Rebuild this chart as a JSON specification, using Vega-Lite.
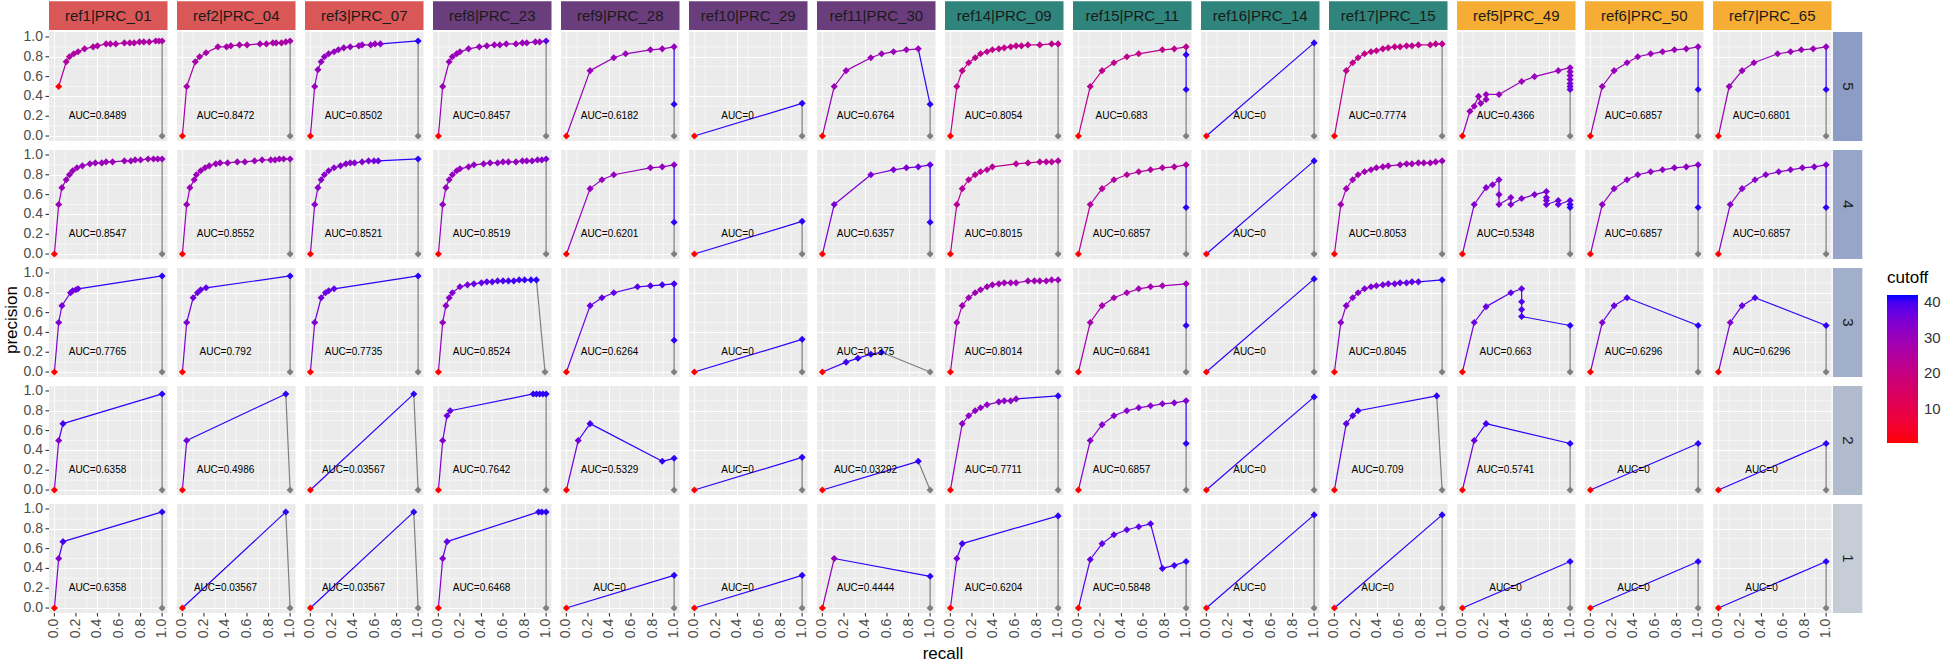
{
"$schema":"https://vega.github.io/schema/vega-lite/v6.json",
"padding":{"left":2,"top":1,"right":0,"bottom":0},
"bounds":"flush",
"data":{"values":[
{"r":"ref1|PRC_01","w":5,"x":0.04,"y":0.5,"c":0.5},{"r":"ref1|PRC_01","w":5,"x":0.11,"y":0.75,"c":26},{"r":"ref1|PRC_01","w":5,"x":0.14,"y":0.8,"c":26},{"r":"ref1|PRC_01","w":5,"x":0.18,"y":0.83,"c":26},{"r":"ref1|PRC_01","w":5,"x":0.22,"y":0.85,"c":26},{"r":"ref1|PRC_01","w":5,"x":0.28,"y":0.88,"c":26},{"r":"ref1|PRC_01","w":5,"x":0.36,"y":0.9,"c":26},{"r":"ref1|PRC_01","w":5,"x":0.4,"y":0.91,"c":26},{"r":"ref1|PRC_01","w":5,"x":0.48,"y":0.93,"c":26},{"r":"ref1|PRC_01","w":5,"x":0.52,"y":0.93,"c":26},{"r":"ref1|PRC_01","w":5,"x":0.57,"y":0.93,"c":26},{"r":"ref1|PRC_01","w":5,"x":0.65,"y":0.94,"c":26},{"r":"ref1|PRC_01","w":5,"x":0.7,"y":0.94,"c":26},{"r":"ref1|PRC_01","w":5,"x":0.74,"y":0.94,"c":26},{"r":"ref1|PRC_01","w":5,"x":0.79,"y":0.95,"c":26},{"r":"ref1|PRC_01","w":5,"x":0.83,"y":0.95,"c":26},{"r":"ref1|PRC_01","w":5,"x":0.88,"y":0.95,"c":26},{"r":"ref1|PRC_01","w":5,"x":0.94,"y":0.96,"c":26},{"r":"ref1|PRC_01","w":5,"x":0.97,"y":0.96,"c":26},{"r":"ref1|PRC_01","w":5,"x":1,"y":0.96,"c":27},{"r":"ref1|PRC_01","w":5,"x":1,"y":0,"c":null},
{"r":"ref1|PRC_01","w":4,"x":0,"y":0,"c":0.5},{"r":"ref1|PRC_01","w":4,"x":0.04,"y":0.5,"c":30},{"r":"ref1|PRC_01","w":4,"x":0.07,"y":0.67,"c":30},{"r":"ref1|PRC_01","w":4,"x":0.11,"y":0.75,"c":30},{"r":"ref1|PRC_01","w":4,"x":0.14,"y":0.8,"c":30},{"r":"ref1|PRC_01","w":4,"x":0.17,"y":0.84,"c":30},{"r":"ref1|PRC_01","w":4,"x":0.21,"y":0.87,"c":30},{"r":"ref1|PRC_01","w":4,"x":0.26,"y":0.89,"c":30},{"r":"ref1|PRC_01","w":4,"x":0.33,"y":0.91,"c":30},{"r":"ref1|PRC_01","w":4,"x":0.38,"y":0.92,"c":30},{"r":"ref1|PRC_01","w":4,"x":0.44,"y":0.92,"c":30},{"r":"ref1|PRC_01","w":4,"x":0.48,"y":0.93,"c":30},{"r":"ref1|PRC_01","w":4,"x":0.54,"y":0.93,"c":30},{"r":"ref1|PRC_01","w":4,"x":0.65,"y":0.94,"c":30},{"r":"ref1|PRC_01","w":4,"x":0.71,"y":0.94,"c":30},{"r":"ref1|PRC_01","w":4,"x":0.75,"y":0.95,"c":30},{"r":"ref1|PRC_01","w":4,"x":0.8,"y":0.95,"c":30},{"r":"ref1|PRC_01","w":4,"x":0.87,"y":0.96,"c":30},{"r":"ref1|PRC_01","w":4,"x":0.92,"y":0.96,"c":30},{"r":"ref1|PRC_01","w":4,"x":0.96,"y":0.96,"c":30},{"r":"ref1|PRC_01","w":4,"x":1,"y":0.96,"c":31},{"r":"ref1|PRC_01","w":4,"x":1,"y":0,"c":null},
{"r":"ref1|PRC_01","w":3,"x":0,"y":0,"c":0.5},{"r":"ref1|PRC_01","w":3,"x":0.04,"y":0.5,"c":34},{"r":"ref1|PRC_01","w":3,"x":0.07,"y":0.67,"c":35},{"r":"ref1|PRC_01","w":3,"x":0.15,"y":0.8,"c":36},{"r":"ref1|PRC_01","w":3,"x":0.17,"y":0.82,"c":36},{"r":"ref1|PRC_01","w":3,"x":0.2,"y":0.83,"c":37},{"r":"ref1|PRC_01","w":3,"x":0.22,"y":0.84,"c":37},{"r":"ref1|PRC_01","w":3,"x":1,"y":0.97,"c":41},{"r":"ref1|PRC_01","w":3,"x":1,"y":0,"c":null},
{"r":"ref1|PRC_01","w":2,"x":0,"y":0,"c":0.5},{"r":"ref1|PRC_01","w":2,"x":0.04,"y":0.5,"c":34},{"r":"ref1|PRC_01","w":2,"x":0.08,"y":0.67,"c":40},{"r":"ref1|PRC_01","w":2,"x":1,"y":0.97,"c":41},{"r":"ref1|PRC_01","w":2,"x":1,"y":0,"c":null},
{"r":"ref1|PRC_01","w":1,"x":0,"y":0,"c":0.5},{"r":"ref1|PRC_01","w":1,"x":0.04,"y":0.5,"c":34},{"r":"ref1|PRC_01","w":1,"x":0.08,"y":0.67,"c":40},{"r":"ref1|PRC_01","w":1,"x":1,"y":0.97,"c":41},{"r":"ref1|PRC_01","w":1,"x":1,"y":0,"c":null},
{"r":"ref2|PRC_04","w":5,"x":0,"y":0,"c":0.5},{"r":"ref2|PRC_04","w":5,"x":0.04,"y":0.5,"c":27},{"r":"ref2|PRC_04","w":5,"x":0.12,"y":0.75,"c":27},{"r":"ref2|PRC_04","w":5,"x":0.16,"y":0.8,"c":27},{"r":"ref2|PRC_04","w":5,"x":0.22,"y":0.84,"c":27},{"r":"ref2|PRC_04","w":5,"x":0.33,"y":0.9,"c":27},{"r":"ref2|PRC_04","w":5,"x":0.41,"y":0.9,"c":27},{"r":"ref2|PRC_04","w":5,"x":0.45,"y":0.91,"c":27},{"r":"ref2|PRC_04","w":5,"x":0.53,"y":0.92,"c":27},{"r":"ref2|PRC_04","w":5,"x":0.6,"y":0.92,"c":27},{"r":"ref2|PRC_04","w":5,"x":0.72,"y":0.93,"c":27},{"r":"ref2|PRC_04","w":5,"x":0.78,"y":0.93,"c":27},{"r":"ref2|PRC_04","w":5,"x":0.84,"y":0.94,"c":27},{"r":"ref2|PRC_04","w":5,"x":0.87,"y":0.94,"c":27},{"r":"ref2|PRC_04","w":5,"x":0.92,"y":0.94,"c":27},{"r":"ref2|PRC_04","w":5,"x":0.96,"y":0.95,"c":27},{"r":"ref2|PRC_04","w":5,"x":1,"y":0.96,"c":28},{"r":"ref2|PRC_04","w":5,"x":1,"y":0,"c":null},
{"r":"ref2|PRC_04","w":4,"x":0,"y":0,"c":0.5},{"r":"ref2|PRC_04","w":4,"x":0.04,"y":0.5,"c":30},{"r":"ref2|PRC_04","w":4,"x":0.07,"y":0.67,"c":30},{"r":"ref2|PRC_04","w":4,"x":0.11,"y":0.75,"c":30},{"r":"ref2|PRC_04","w":4,"x":0.13,"y":0.8,"c":30},{"r":"ref2|PRC_04","w":4,"x":0.17,"y":0.84,"c":30},{"r":"ref2|PRC_04","w":4,"x":0.21,"y":0.87,"c":30},{"r":"ref2|PRC_04","w":4,"x":0.25,"y":0.89,"c":30},{"r":"ref2|PRC_04","w":4,"x":0.31,"y":0.91,"c":30},{"r":"ref2|PRC_04","w":4,"x":0.35,"y":0.92,"c":30},{"r":"ref2|PRC_04","w":4,"x":0.42,"y":0.92,"c":30},{"r":"ref2|PRC_04","w":4,"x":0.51,"y":0.93,"c":30},{"r":"ref2|PRC_04","w":4,"x":0.58,"y":0.93,"c":30},{"r":"ref2|PRC_04","w":4,"x":0.67,"y":0.94,"c":30},{"r":"ref2|PRC_04","w":4,"x":0.74,"y":0.95,"c":30},{"r":"ref2|PRC_04","w":4,"x":0.82,"y":0.95,"c":30},{"r":"ref2|PRC_04","w":4,"x":0.86,"y":0.95,"c":30},{"r":"ref2|PRC_04","w":4,"x":0.9,"y":0.96,"c":30},{"r":"ref2|PRC_04","w":4,"x":0.94,"y":0.96,"c":30},{"r":"ref2|PRC_04","w":4,"x":1,"y":0.96,"c":31},{"r":"ref2|PRC_04","w":4,"x":1,"y":0,"c":null},
{"r":"ref2|PRC_04","w":3,"x":0,"y":0,"c":0.5},{"r":"ref2|PRC_04","w":3,"x":0.04,"y":0.5,"c":34},{"r":"ref2|PRC_04","w":3,"x":0.1,"y":0.75,"c":36},{"r":"ref2|PRC_04","w":3,"x":0.14,"y":0.8,"c":37},{"r":"ref2|PRC_04","w":3,"x":0.17,"y":0.83,"c":37},{"r":"ref2|PRC_04","w":3,"x":0.22,"y":0.85,"c":38},{"r":"ref2|PRC_04","w":3,"x":1,"y":0.97,"c":41},{"r":"ref2|PRC_04","w":3,"x":1,"y":0,"c":null},
{"r":"ref2|PRC_04","w":2,"x":0,"y":0,"c":0.5},{"r":"ref2|PRC_04","w":2,"x":0.04,"y":0.5,"c":36},{"r":"ref2|PRC_04","w":2,"x":0.96,"y":0.97,"c":41},{"r":"ref2|PRC_04","w":2,"x":1,"y":0,"c":null},
{"r":"ref2|PRC_04","w":1,"x":0,"y":0,"c":0.5},{"r":"ref2|PRC_04","w":1,"x":0.96,"y":0.97,"c":41},{"r":"ref2|PRC_04","w":1,"x":1,"y":0,"c":null},
{"r":"ref3|PRC_07","w":5,"x":0,"y":0,"c":0.5},{"r":"ref3|PRC_07","w":5,"x":0.04,"y":0.5,"c":31},{"r":"ref3|PRC_07","w":5,"x":0.07,"y":0.67,"c":31},{"r":"ref3|PRC_07","w":5,"x":0.1,"y":0.75,"c":31},{"r":"ref3|PRC_07","w":5,"x":0.13,"y":0.8,"c":31},{"r":"ref3|PRC_07","w":5,"x":0.17,"y":0.83,"c":31},{"r":"ref3|PRC_07","w":5,"x":0.22,"y":0.85,"c":31},{"r":"ref3|PRC_07","w":5,"x":0.26,"y":0.87,"c":31},{"r":"ref3|PRC_07","w":5,"x":0.31,"y":0.89,"c":31},{"r":"ref3|PRC_07","w":5,"x":0.37,"y":0.9,"c":31},{"r":"ref3|PRC_07","w":5,"x":0.45,"y":0.91,"c":31},{"r":"ref3|PRC_07","w":5,"x":0.48,"y":0.92,"c":31},{"r":"ref3|PRC_07","w":5,"x":0.56,"y":0.92,"c":31},{"r":"ref3|PRC_07","w":5,"x":0.6,"y":0.93,"c":31},{"r":"ref3|PRC_07","w":5,"x":0.65,"y":0.93,"c":33},{"r":"ref3|PRC_07","w":5,"x":1,"y":0.96,"c":41},{"r":"ref3|PRC_07","w":5,"x":1,"y":0,"c":null},
{"r":"ref3|PRC_07","w":4,"x":0,"y":0,"c":0.5},{"r":"ref3|PRC_07","w":4,"x":0.04,"y":0.5,"c":33},{"r":"ref3|PRC_07","w":4,"x":0.07,"y":0.67,"c":33},{"r":"ref3|PRC_07","w":4,"x":0.1,"y":0.75,"c":33},{"r":"ref3|PRC_07","w":4,"x":0.13,"y":0.8,"c":33},{"r":"ref3|PRC_07","w":4,"x":0.17,"y":0.84,"c":33},{"r":"ref3|PRC_07","w":4,"x":0.22,"y":0.87,"c":33},{"r":"ref3|PRC_07","w":4,"x":0.28,"y":0.89,"c":33},{"r":"ref3|PRC_07","w":4,"x":0.33,"y":0.91,"c":33},{"r":"ref3|PRC_07","w":4,"x":0.37,"y":0.92,"c":33},{"r":"ref3|PRC_07","w":4,"x":0.41,"y":0.92,"c":34},{"r":"ref3|PRC_07","w":4,"x":0.48,"y":0.93,"c":34},{"r":"ref3|PRC_07","w":4,"x":0.54,"y":0.94,"c":35},{"r":"ref3|PRC_07","w":4,"x":0.59,"y":0.94,"c":36},{"r":"ref3|PRC_07","w":4,"x":0.63,"y":0.94,"c":37},{"r":"ref3|PRC_07","w":4,"x":1,"y":0.96,"c":41},{"r":"ref3|PRC_07","w":4,"x":1,"y":0,"c":null},
{"r":"ref3|PRC_07","w":3,"x":0,"y":0,"c":0.5},{"r":"ref3|PRC_07","w":3,"x":0.04,"y":0.5,"c":34},{"r":"ref3|PRC_07","w":3,"x":0.1,"y":0.75,"c":36},{"r":"ref3|PRC_07","w":3,"x":0.14,"y":0.8,"c":37},{"r":"ref3|PRC_07","w":3,"x":0.17,"y":0.82,"c":37},{"r":"ref3|PRC_07","w":3,"x":0.22,"y":0.84,"c":38},{"r":"ref3|PRC_07","w":3,"x":1,"y":0.97,"c":41},{"r":"ref3|PRC_07","w":3,"x":1,"y":0,"c":null},
{"r":"ref3|PRC_07","w":2,"x":0,"y":0,"c":0.5},{"r":"ref3|PRC_07","w":2,"x":0.96,"y":0.97,"c":41},{"r":"ref3|PRC_07","w":2,"x":1,"y":0,"c":null},
{"r":"ref3|PRC_07","w":1,"x":0,"y":0,"c":0.5},{"r":"ref3|PRC_07","w":1,"x":0.96,"y":0.97,"c":41},{"r":"ref3|PRC_07","w":1,"x":1,"y":0,"c":null},
{"r":"ref8|PRC_23","w":5,"x":0,"y":0,"c":0.5},{"r":"ref8|PRC_23","w":5,"x":0.04,"y":0.5,"c":30},{"r":"ref8|PRC_23","w":5,"x":0.1,"y":0.75,"c":30},{"r":"ref8|PRC_23","w":5,"x":0.13,"y":0.8,"c":30},{"r":"ref8|PRC_23","w":5,"x":0.17,"y":0.83,"c":30},{"r":"ref8|PRC_23","w":5,"x":0.2,"y":0.85,"c":30},{"r":"ref8|PRC_23","w":5,"x":0.28,"y":0.88,"c":30},{"r":"ref8|PRC_23","w":5,"x":0.38,"y":0.9,"c":30},{"r":"ref8|PRC_23","w":5,"x":0.45,"y":0.91,"c":30},{"r":"ref8|PRC_23","w":5,"x":0.52,"y":0.92,"c":30},{"r":"ref8|PRC_23","w":5,"x":0.57,"y":0.92,"c":30},{"r":"ref8|PRC_23","w":5,"x":0.63,"y":0.93,"c":30},{"r":"ref8|PRC_23","w":5,"x":0.72,"y":0.93,"c":30},{"r":"ref8|PRC_23","w":5,"x":0.78,"y":0.94,"c":30},{"r":"ref8|PRC_23","w":5,"x":0.82,"y":0.94,"c":30},{"r":"ref8|PRC_23","w":5,"x":0.9,"y":0.95,"c":30},{"r":"ref8|PRC_23","w":5,"x":0.94,"y":0.95,"c":30},{"r":"ref8|PRC_23","w":5,"x":1,"y":0.96,"c":38},{"r":"ref8|PRC_23","w":5,"x":1,"y":0,"c":null},
{"r":"ref8|PRC_23","w":4,"x":0,"y":0,"c":0.5},{"r":"ref8|PRC_23","w":4,"x":0.04,"y":0.5,"c":31},{"r":"ref8|PRC_23","w":4,"x":0.07,"y":0.67,"c":31},{"r":"ref8|PRC_23","w":4,"x":0.1,"y":0.75,"c":31},{"r":"ref8|PRC_23","w":4,"x":0.13,"y":0.8,"c":31},{"r":"ref8|PRC_23","w":4,"x":0.17,"y":0.84,"c":31},{"r":"ref8|PRC_23","w":4,"x":0.2,"y":0.86,"c":31},{"r":"ref8|PRC_23","w":4,"x":0.28,"y":0.88,"c":31},{"r":"ref8|PRC_23","w":4,"x":0.33,"y":0.9,"c":31},{"r":"ref8|PRC_23","w":4,"x":0.42,"y":0.91,"c":31},{"r":"ref8|PRC_23","w":4,"x":0.48,"y":0.92,"c":31},{"r":"ref8|PRC_23","w":4,"x":0.55,"y":0.92,"c":31},{"r":"ref8|PRC_23","w":4,"x":0.6,"y":0.93,"c":31},{"r":"ref8|PRC_23","w":4,"x":0.65,"y":0.93,"c":31},{"r":"ref8|PRC_23","w":4,"x":0.72,"y":0.93,"c":31},{"r":"ref8|PRC_23","w":4,"x":0.78,"y":0.94,"c":31},{"r":"ref8|PRC_23","w":4,"x":0.82,"y":0.94,"c":32},{"r":"ref8|PRC_23","w":4,"x":0.87,"y":0.94,"c":32},{"r":"ref8|PRC_23","w":4,"x":0.92,"y":0.95,"c":32},{"r":"ref8|PRC_23","w":4,"x":0.96,"y":0.95,"c":33},{"r":"ref8|PRC_23","w":4,"x":1,"y":0.96,"c":35},{"r":"ref8|PRC_23","w":4,"x":1,"y":0,"c":null},
{"r":"ref8|PRC_23","w":3,"x":0,"y":0,"c":0.5},{"r":"ref8|PRC_23","w":3,"x":0.04,"y":0.5,"c":31},{"r":"ref8|PRC_23","w":3,"x":0.07,"y":0.67,"c":32},{"r":"ref8|PRC_23","w":3,"x":0.1,"y":0.75,"c":33},{"r":"ref8|PRC_23","w":3,"x":0.13,"y":0.8,"c":34},{"r":"ref8|PRC_23","w":3,"x":0.2,"y":0.86,"c":35},{"r":"ref8|PRC_23","w":3,"x":0.27,"y":0.88,"c":36},{"r":"ref8|PRC_23","w":3,"x":0.33,"y":0.89,"c":37},{"r":"ref8|PRC_23","w":3,"x":0.4,"y":0.9,"c":38},{"r":"ref8|PRC_23","w":3,"x":0.45,"y":0.91,"c":38},{"r":"ref8|PRC_23","w":3,"x":0.5,"y":0.91,"c":39},{"r":"ref8|PRC_23","w":3,"x":0.55,"y":0.92,"c":39},{"r":"ref8|PRC_23","w":3,"x":0.6,"y":0.92,"c":40},{"r":"ref8|PRC_23","w":3,"x":0.65,"y":0.92,"c":40},{"r":"ref8|PRC_23","w":3,"x":0.7,"y":0.92,"c":40},{"r":"ref8|PRC_23","w":3,"x":0.75,"y":0.93,"c":40},{"r":"ref8|PRC_23","w":3,"x":0.8,"y":0.93,"c":41},{"r":"ref8|PRC_23","w":3,"x":0.86,"y":0.93,"c":41},{"r":"ref8|PRC_23","w":3,"x":0.91,"y":0.93,"c":41},{"r":"ref8|PRC_23","w":3,"x":0.99,"y":0,"c":null},
{"r":"ref8|PRC_23","w":2,"x":0,"y":0,"c":0.5},{"r":"ref8|PRC_23","w":2,"x":0.04,"y":0.5,"c":34},{"r":"ref8|PRC_23","w":2,"x":0.08,"y":0.75,"c":37},{"r":"ref8|PRC_23","w":2,"x":0.11,"y":0.8,"c":38},{"r":"ref8|PRC_23","w":2,"x":0.88,"y":0.97,"c":41},{"r":"ref8|PRC_23","w":2,"x":0.91,"y":0.97,"c":41},{"r":"ref8|PRC_23","w":2,"x":0.94,"y":0.97,"c":41},{"r":"ref8|PRC_23","w":2,"x":0.97,"y":0.97,"c":41},{"r":"ref8|PRC_23","w":2,"x":1,"y":0.97,"c":41},{"r":"ref8|PRC_23","w":2,"x":1,"y":0,"c":null},
{"r":"ref8|PRC_23","w":1,"x":0,"y":0,"c":0.5},{"r":"ref8|PRC_23","w":1,"x":0.04,"y":0.5,"c":34},{"r":"ref8|PRC_23","w":1,"x":0.08,"y":0.67,"c":38},{"r":"ref8|PRC_23","w":1,"x":0.93,"y":0.97,"c":41},{"r":"ref8|PRC_23","w":1,"x":0.96,"y":0.97,"c":41},{"r":"ref8|PRC_23","w":1,"x":1,"y":0.97,"c":41},{"r":"ref8|PRC_23","w":1,"x":1,"y":0,"c":null},
{"r":"ref9|PRC_28","w":5,"x":0,"y":0,"c":0.5},{"r":"ref9|PRC_28","w":5,"x":0.22,"y":0.66,"c":30},{"r":"ref9|PRC_28","w":5,"x":0.44,"y":0.79,"c":30},{"r":"ref9|PRC_28","w":5,"x":0.55,"y":0.83,"c":30},{"r":"ref9|PRC_28","w":5,"x":0.78,"y":0.87,"c":30},{"r":"ref9|PRC_28","w":5,"x":0.89,"y":0.88,"c":30},{"r":"ref9|PRC_28","w":5,"x":1,"y":0.9,"c":31},{"r":"ref9|PRC_28","w":5,"x":1,"y":0.32,"c":41},{"r":"ref9|PRC_28","w":5,"x":1,"y":0,"c":null},
{"r":"ref9|PRC_28","w":4,"x":0,"y":0,"c":0.5},{"r":"ref9|PRC_28","w":4,"x":0.22,"y":0.66,"c":31},{"r":"ref9|PRC_28","w":4,"x":0.33,"y":0.75,"c":31},{"r":"ref9|PRC_28","w":4,"x":0.44,"y":0.8,"c":31},{"r":"ref9|PRC_28","w":4,"x":0.78,"y":0.87,"c":31},{"r":"ref9|PRC_28","w":4,"x":0.89,"y":0.88,"c":31},{"r":"ref9|PRC_28","w":4,"x":1,"y":0.9,"c":32},{"r":"ref9|PRC_28","w":4,"x":1,"y":0.32,"c":41},{"r":"ref9|PRC_28","w":4,"x":1,"y":0,"c":null},
{"r":"ref9|PRC_28","w":3,"x":0,"y":0,"c":0.5},{"r":"ref9|PRC_28","w":3,"x":0.22,"y":0.67,"c":37},{"r":"ref9|PRC_28","w":3,"x":0.33,"y":0.75,"c":38},{"r":"ref9|PRC_28","w":3,"x":0.44,"y":0.8,"c":38},{"r":"ref9|PRC_28","w":3,"x":0.66,"y":0.86,"c":39},{"r":"ref9|PRC_28","w":3,"x":0.78,"y":0.87,"c":39},{"r":"ref9|PRC_28","w":3,"x":0.89,"y":0.88,"c":40},{"r":"ref9|PRC_28","w":3,"x":1,"y":0.89,"c":40},{"r":"ref9|PRC_28","w":3,"x":1,"y":0.32,"c":41},{"r":"ref9|PRC_28","w":3,"x":1,"y":0,"c":null},
{"r":"ref9|PRC_28","w":2,"x":0,"y":0,"c":0.5},{"r":"ref9|PRC_28","w":2,"x":0.11,"y":0.5,"c":36},{"r":"ref9|PRC_28","w":2,"x":0.22,"y":0.67,"c":40},{"r":"ref9|PRC_28","w":2,"x":0.89,"y":0.29,"c":41},{"r":"ref9|PRC_28","w":2,"x":1,"y":0.32,"c":41},{"r":"ref9|PRC_28","w":2,"x":1,"y":0,"c":null},
{"r":"ref9|PRC_28","w":1,"x":0,"y":0,"c":0.5},{"r":"ref9|PRC_28","w":1,"x":1,"y":0.33,"c":41},{"r":"ref9|PRC_28","w":1,"x":1,"y":0,"c":null},
{"r":"ref10|PRC_29","w":5,"x":0,"y":0,"c":0.5},{"r":"ref10|PRC_29","w":5,"x":1,"y":0.33,"c":41},{"r":"ref10|PRC_29","w":5,"x":1,"y":0,"c":null},
{"r":"ref10|PRC_29","w":4,"x":0,"y":0,"c":0.5},{"r":"ref10|PRC_29","w":4,"x":1,"y":0.33,"c":41},{"r":"ref10|PRC_29","w":4,"x":1,"y":0,"c":null},
{"r":"ref10|PRC_29","w":3,"x":0,"y":0,"c":0.5},{"r":"ref10|PRC_29","w":3,"x":1,"y":0.33,"c":41},{"r":"ref10|PRC_29","w":3,"x":1,"y":0,"c":null},
{"r":"ref10|PRC_29","w":2,"x":0,"y":0,"c":0.5},{"r":"ref10|PRC_29","w":2,"x":1,"y":0.33,"c":41},{"r":"ref10|PRC_29","w":2,"x":1,"y":0,"c":null},
{"r":"ref10|PRC_29","w":1,"x":0,"y":0,"c":0.5},{"r":"ref10|PRC_29","w":1,"x":1,"y":0.33,"c":41},{"r":"ref10|PRC_29","w":1,"x":1,"y":0,"c":null},
{"r":"ref11|PRC_30","w":5,"x":0,"y":0,"c":0.5},{"r":"ref11|PRC_30","w":5,"x":0.11,"y":0.5,"c":30},{"r":"ref11|PRC_30","w":5,"x":0.22,"y":0.66,"c":30},{"r":"ref11|PRC_30","w":5,"x":0.45,"y":0.79,"c":30},{"r":"ref11|PRC_30","w":5,"x":0.55,"y":0.83,"c":30},{"r":"ref11|PRC_30","w":5,"x":0.66,"y":0.85,"c":30},{"r":"ref11|PRC_30","w":5,"x":0.78,"y":0.87,"c":30},{"r":"ref11|PRC_30","w":5,"x":0.89,"y":0.88,"c":30},{"r":"ref11|PRC_30","w":5,"x":1,"y":0.32,"c":41},{"r":"ref11|PRC_30","w":5,"x":1,"y":0,"c":null},
{"r":"ref11|PRC_30","w":4,"x":0,"y":0,"c":0.5},{"r":"ref11|PRC_30","w":4,"x":0.11,"y":0.5,"c":35},{"r":"ref11|PRC_30","w":4,"x":0.45,"y":0.8,"c":35},{"r":"ref11|PRC_30","w":4,"x":0.66,"y":0.85,"c":35},{"r":"ref11|PRC_30","w":4,"x":0.78,"y":0.87,"c":35},{"r":"ref11|PRC_30","w":4,"x":0.89,"y":0.88,"c":36},{"r":"ref11|PRC_30","w":4,"x":1,"y":0.9,"c":37},{"r":"ref11|PRC_30","w":4,"x":1,"y":0.32,"c":41},{"r":"ref11|PRC_30","w":4,"x":1,"y":0,"c":null},
{"r":"ref11|PRC_30","w":3,"x":0,"y":0,"c":0.5},{"r":"ref11|PRC_30","w":3,"x":0.22,"y":0.1,"c":40},{"r":"ref11|PRC_30","w":3,"x":0.33,"y":0.14,"c":41},{"r":"ref11|PRC_30","w":3,"x":0.45,"y":0.18,"c":41},{"r":"ref11|PRC_30","w":3,"x":0.55,"y":0.2,"c":41},{"r":"ref11|PRC_30","w":3,"x":1,"y":0,"c":null},
{"r":"ref11|PRC_30","w":2,"x":0,"y":0,"c":0.5},{"r":"ref11|PRC_30","w":2,"x":0.89,"y":0.29,"c":41},{"r":"ref11|PRC_30","w":2,"x":1,"y":0,"c":null},
{"r":"ref11|PRC_30","w":1,"x":0,"y":0,"c":0.5},{"r":"ref11|PRC_30","w":1,"x":0.11,"y":0.5,"c":30},{"r":"ref11|PRC_30","w":1,"x":1,"y":0.32,"c":41},{"r":"ref11|PRC_30","w":1,"x":1,"y":0,"c":null},
{"r":"ref14|PRC_09","w":5,"x":0,"y":0,"c":0.5},{"r":"ref14|PRC_09","w":5,"x":0.06,"y":0.5,"c":22},{"r":"ref14|PRC_09","w":5,"x":0.11,"y":0.66,"c":22},{"r":"ref14|PRC_09","w":5,"x":0.17,"y":0.74,"c":22},{"r":"ref14|PRC_09","w":5,"x":0.23,"y":0.79,"c":22},{"r":"ref14|PRC_09","w":5,"x":0.28,"y":0.83,"c":22},{"r":"ref14|PRC_09","w":5,"x":0.34,"y":0.85,"c":22},{"r":"ref14|PRC_09","w":5,"x":0.39,"y":0.87,"c":22},{"r":"ref14|PRC_09","w":5,"x":0.45,"y":0.88,"c":22},{"r":"ref14|PRC_09","w":5,"x":0.5,"y":0.89,"c":22},{"r":"ref14|PRC_09","w":5,"x":0.56,"y":0.9,"c":22},{"r":"ref14|PRC_09","w":5,"x":0.61,"y":0.91,"c":22},{"r":"ref14|PRC_09","w":5,"x":0.66,"y":0.91,"c":22},{"r":"ref14|PRC_09","w":5,"x":0.72,"y":0.92,"c":22},{"r":"ref14|PRC_09","w":5,"x":0.83,"y":0.92,"c":22},{"r":"ref14|PRC_09","w":5,"x":0.94,"y":0.93,"c":22},{"r":"ref14|PRC_09","w":5,"x":1,"y":0.93,"c":23},{"r":"ref14|PRC_09","w":5,"x":1,"y":0,"c":null},
{"r":"ref14|PRC_09","w":4,"x":0,"y":0,"c":0.5},{"r":"ref14|PRC_09","w":4,"x":0.06,"y":0.5,"c":24},{"r":"ref14|PRC_09","w":4,"x":0.11,"y":0.66,"c":24},{"r":"ref14|PRC_09","w":4,"x":0.17,"y":0.75,"c":24},{"r":"ref14|PRC_09","w":4,"x":0.23,"y":0.8,"c":24},{"r":"ref14|PRC_09","w":4,"x":0.28,"y":0.83,"c":24},{"r":"ref14|PRC_09","w":4,"x":0.34,"y":0.85,"c":24},{"r":"ref14|PRC_09","w":4,"x":0.39,"y":0.88,"c":24},{"r":"ref14|PRC_09","w":4,"x":0.61,"y":0.91,"c":24},{"r":"ref14|PRC_09","w":4,"x":0.72,"y":0.92,"c":24},{"r":"ref14|PRC_09","w":4,"x":0.83,"y":0.93,"c":24},{"r":"ref14|PRC_09","w":4,"x":0.89,"y":0.93,"c":24},{"r":"ref14|PRC_09","w":4,"x":0.94,"y":0.93,"c":24},{"r":"ref14|PRC_09","w":4,"x":1,"y":0.94,"c":25},{"r":"ref14|PRC_09","w":4,"x":1,"y":0,"c":null},
{"r":"ref14|PRC_09","w":3,"x":0,"y":0,"c":0.5},{"r":"ref14|PRC_09","w":3,"x":0.06,"y":0.5,"c":29},{"r":"ref14|PRC_09","w":3,"x":0.11,"y":0.67,"c":29},{"r":"ref14|PRC_09","w":3,"x":0.17,"y":0.75,"c":29},{"r":"ref14|PRC_09","w":3,"x":0.23,"y":0.8,"c":29},{"r":"ref14|PRC_09","w":3,"x":0.28,"y":0.83,"c":29},{"r":"ref14|PRC_09","w":3,"x":0.34,"y":0.86,"c":29},{"r":"ref14|PRC_09","w":3,"x":0.39,"y":0.88,"c":29},{"r":"ref14|PRC_09","w":3,"x":0.45,"y":0.89,"c":29},{"r":"ref14|PRC_09","w":3,"x":0.5,"y":0.9,"c":29},{"r":"ref14|PRC_09","w":3,"x":0.56,"y":0.9,"c":29},{"r":"ref14|PRC_09","w":3,"x":0.61,"y":0.9,"c":29},{"r":"ref14|PRC_09","w":3,"x":0.72,"y":0.92,"c":29},{"r":"ref14|PRC_09","w":3,"x":0.78,"y":0.92,"c":29},{"r":"ref14|PRC_09","w":3,"x":0.83,"y":0.92,"c":29},{"r":"ref14|PRC_09","w":3,"x":0.89,"y":0.92,"c":29},{"r":"ref14|PRC_09","w":3,"x":0.94,"y":0.93,"c":29},{"r":"ref14|PRC_09","w":3,"x":1,"y":0.93,"c":30},{"r":"ref14|PRC_09","w":3,"x":1,"y":0,"c":null},
{"r":"ref14|PRC_09","w":2,"x":0,"y":0,"c":0.5},{"r":"ref14|PRC_09","w":2,"x":0.11,"y":0.67,"c":32},{"r":"ref14|PRC_09","w":2,"x":0.17,"y":0.75,"c":32},{"r":"ref14|PRC_09","w":2,"x":0.23,"y":0.8,"c":32},{"r":"ref14|PRC_09","w":2,"x":0.28,"y":0.83,"c":32},{"r":"ref14|PRC_09","w":2,"x":0.34,"y":0.86,"c":32},{"r":"ref14|PRC_09","w":2,"x":0.45,"y":0.89,"c":32},{"r":"ref14|PRC_09","w":2,"x":0.5,"y":0.9,"c":32},{"r":"ref14|PRC_09","w":2,"x":0.56,"y":0.9,"c":32},{"r":"ref14|PRC_09","w":2,"x":0.61,"y":0.92,"c":33},{"r":"ref14|PRC_09","w":2,"x":1,"y":0.95,"c":41},{"r":"ref14|PRC_09","w":2,"x":1,"y":0,"c":null},
{"r":"ref14|PRC_09","w":1,"x":0,"y":0,"c":0.5},{"r":"ref14|PRC_09","w":1,"x":0.06,"y":0.5,"c":35},{"r":"ref14|PRC_09","w":1,"x":0.11,"y":0.65,"c":40},{"r":"ref14|PRC_09","w":1,"x":1,"y":0.93,"c":41},{"r":"ref14|PRC_09","w":1,"x":1,"y":0,"c":null},
{"r":"ref15|PRC_11","w":5,"x":0,"y":0,"c":0.5},{"r":"ref15|PRC_11","w":5,"x":0.11,"y":0.5,"c":22},{"r":"ref15|PRC_11","w":5,"x":0.22,"y":0.66,"c":22},{"r":"ref15|PRC_11","w":5,"x":0.33,"y":0.74,"c":22},{"r":"ref15|PRC_11","w":5,"x":0.45,"y":0.8,"c":22},{"r":"ref15|PRC_11","w":5,"x":0.56,"y":0.83,"c":22},{"r":"ref15|PRC_11","w":5,"x":0.78,"y":0.87,"c":22},{"r":"ref15|PRC_11","w":5,"x":0.89,"y":0.88,"c":22},{"r":"ref15|PRC_11","w":5,"x":1,"y":0.9,"c":23},{"r":"ref15|PRC_11","w":5,"x":1,"y":0.82,"c":41},{"r":"ref15|PRC_11","w":5,"x":1,"y":0.47,"c":41},{"r":"ref15|PRC_11","w":5,"x":1,"y":0,"c":null},
{"r":"ref15|PRC_11","w":4,"x":0,"y":0,"c":0.5},{"r":"ref15|PRC_11","w":4,"x":0.11,"y":0.5,"c":25},{"r":"ref15|PRC_11","w":4,"x":0.22,"y":0.66,"c":25},{"r":"ref15|PRC_11","w":4,"x":0.33,"y":0.75,"c":25},{"r":"ref15|PRC_11","w":4,"x":0.45,"y":0.8,"c":25},{"r":"ref15|PRC_11","w":4,"x":0.56,"y":0.83,"c":25},{"r":"ref15|PRC_11","w":4,"x":0.67,"y":0.85,"c":25},{"r":"ref15|PRC_11","w":4,"x":0.78,"y":0.87,"c":25},{"r":"ref15|PRC_11","w":4,"x":0.89,"y":0.88,"c":25},{"r":"ref15|PRC_11","w":4,"x":1,"y":0.9,"c":26},{"r":"ref15|PRC_11","w":4,"x":1,"y":0.47,"c":41},{"r":"ref15|PRC_11","w":4,"x":1,"y":0,"c":null},
{"r":"ref15|PRC_11","w":3,"x":0,"y":0,"c":0.5},{"r":"ref15|PRC_11","w":3,"x":0.11,"y":0.5,"c":28},{"r":"ref15|PRC_11","w":3,"x":0.22,"y":0.67,"c":28},{"r":"ref15|PRC_11","w":3,"x":0.33,"y":0.75,"c":28},{"r":"ref15|PRC_11","w":3,"x":0.45,"y":0.8,"c":28},{"r":"ref15|PRC_11","w":3,"x":0.56,"y":0.84,"c":28},{"r":"ref15|PRC_11","w":3,"x":0.67,"y":0.86,"c":28},{"r":"ref15|PRC_11","w":3,"x":0.78,"y":0.87,"c":28},{"r":"ref15|PRC_11","w":3,"x":1,"y":0.89,"c":29},{"r":"ref15|PRC_11","w":3,"x":1,"y":0.47,"c":41},{"r":"ref15|PRC_11","w":3,"x":1,"y":0,"c":null},
{"r":"ref15|PRC_11","w":2,"x":0,"y":0,"c":0.5},{"r":"ref15|PRC_11","w":2,"x":0.11,"y":0.5,"c":33},{"r":"ref15|PRC_11","w":2,"x":0.22,"y":0.66,"c":33},{"r":"ref15|PRC_11","w":2,"x":0.33,"y":0.75,"c":33},{"r":"ref15|PRC_11","w":2,"x":0.45,"y":0.8,"c":33},{"r":"ref15|PRC_11","w":2,"x":0.56,"y":0.83,"c":33},{"r":"ref15|PRC_11","w":2,"x":0.67,"y":0.85,"c":33},{"r":"ref15|PRC_11","w":2,"x":0.78,"y":0.87,"c":33},{"r":"ref15|PRC_11","w":2,"x":0.89,"y":0.88,"c":33},{"r":"ref15|PRC_11","w":2,"x":1,"y":0.9,"c":34},{"r":"ref15|PRC_11","w":2,"x":1,"y":0.47,"c":41},{"r":"ref15|PRC_11","w":2,"x":1,"y":0,"c":null},
{"r":"ref15|PRC_11","w":1,"x":0,"y":0,"c":0.5},{"r":"ref15|PRC_11","w":1,"x":0.11,"y":0.49,"c":38},{"r":"ref15|PRC_11","w":1,"x":0.22,"y":0.65,"c":38},{"r":"ref15|PRC_11","w":1,"x":0.33,"y":0.74,"c":38},{"r":"ref15|PRC_11","w":1,"x":0.45,"y":0.79,"c":38},{"r":"ref15|PRC_11","w":1,"x":0.56,"y":0.82,"c":38},{"r":"ref15|PRC_11","w":1,"x":0.67,"y":0.85,"c":39},{"r":"ref15|PRC_11","w":1,"x":0.78,"y":0.4,"c":40},{"r":"ref15|PRC_11","w":1,"x":0.89,"y":0.43,"c":40},{"r":"ref15|PRC_11","w":1,"x":1,"y":0.47,"c":41},{"r":"ref15|PRC_11","w":1,"x":1,"y":0,"c":null},
{"r":"ref16|PRC_14","w":5,"x":0,"y":0,"c":0.5},{"r":"ref16|PRC_14","w":5,"x":1,"y":0.94,"c":41},{"r":"ref16|PRC_14","w":5,"x":1,"y":0,"c":null},
{"r":"ref16|PRC_14","w":4,"x":0,"y":0,"c":0.5},{"r":"ref16|PRC_14","w":4,"x":1,"y":0.94,"c":41},{"r":"ref16|PRC_14","w":4,"x":1,"y":0,"c":null},
{"r":"ref16|PRC_14","w":3,"x":0,"y":0,"c":0.5},{"r":"ref16|PRC_14","w":3,"x":1,"y":0.94,"c":41},{"r":"ref16|PRC_14","w":3,"x":1,"y":0,"c":null},
{"r":"ref16|PRC_14","w":2,"x":0,"y":0,"c":0.5},{"r":"ref16|PRC_14","w":2,"x":1,"y":0.94,"c":41},{"r":"ref16|PRC_14","w":2,"x":1,"y":0,"c":null},
{"r":"ref16|PRC_14","w":1,"x":0,"y":0,"c":0.5},{"r":"ref16|PRC_14","w":1,"x":1,"y":0.94,"c":41},{"r":"ref16|PRC_14","w":1,"x":1,"y":0,"c":null},
{"r":"ref17|PRC_15","w":5,"x":0,"y":0,"c":0.5},{"r":"ref17|PRC_15","w":5,"x":0.11,"y":0.66,"c":22},{"r":"ref17|PRC_15","w":5,"x":0.17,"y":0.74,"c":22},{"r":"ref17|PRC_15","w":5,"x":0.22,"y":0.79,"c":22},{"r":"ref17|PRC_15","w":5,"x":0.28,"y":0.83,"c":22},{"r":"ref17|PRC_15","w":5,"x":0.34,"y":0.85,"c":22},{"r":"ref17|PRC_15","w":5,"x":0.39,"y":0.86,"c":22},{"r":"ref17|PRC_15","w":5,"x":0.45,"y":0.88,"c":22},{"r":"ref17|PRC_15","w":5,"x":0.5,"y":0.89,"c":22},{"r":"ref17|PRC_15","w":5,"x":0.56,"y":0.9,"c":22},{"r":"ref17|PRC_15","w":5,"x":0.61,"y":0.9,"c":22},{"r":"ref17|PRC_15","w":5,"x":0.67,"y":0.91,"c":22},{"r":"ref17|PRC_15","w":5,"x":0.72,"y":0.91,"c":22},{"r":"ref17|PRC_15","w":5,"x":0.78,"y":0.92,"c":22},{"r":"ref17|PRC_15","w":5,"x":0.89,"y":0.92,"c":22},{"r":"ref17|PRC_15","w":5,"x":0.94,"y":0.93,"c":22},{"r":"ref17|PRC_15","w":5,"x":1,"y":0.93,"c":23},{"r":"ref17|PRC_15","w":5,"x":1,"y":0,"c":null},
{"r":"ref17|PRC_15","w":4,"x":0,"y":0,"c":0.5},{"r":"ref17|PRC_15","w":4,"x":0.06,"y":0.5,"c":29},{"r":"ref17|PRC_15","w":4,"x":0.11,"y":0.66,"c":29},{"r":"ref17|PRC_15","w":4,"x":0.17,"y":0.75,"c":29},{"r":"ref17|PRC_15","w":4,"x":0.22,"y":0.8,"c":29},{"r":"ref17|PRC_15","w":4,"x":0.28,"y":0.83,"c":29},{"r":"ref17|PRC_15","w":4,"x":0.34,"y":0.85,"c":29},{"r":"ref17|PRC_15","w":4,"x":0.39,"y":0.87,"c":29},{"r":"ref17|PRC_15","w":4,"x":0.45,"y":0.88,"c":29},{"r":"ref17|PRC_15","w":4,"x":0.5,"y":0.89,"c":29},{"r":"ref17|PRC_15","w":4,"x":0.61,"y":0.9,"c":29},{"r":"ref17|PRC_15","w":4,"x":0.67,"y":0.91,"c":29},{"r":"ref17|PRC_15","w":4,"x":0.72,"y":0.91,"c":29},{"r":"ref17|PRC_15","w":4,"x":0.78,"y":0.92,"c":29},{"r":"ref17|PRC_15","w":4,"x":0.83,"y":0.92,"c":29},{"r":"ref17|PRC_15","w":4,"x":0.89,"y":0.92,"c":29},{"r":"ref17|PRC_15","w":4,"x":0.94,"y":0.93,"c":29},{"r":"ref17|PRC_15","w":4,"x":1,"y":0.94,"c":30},{"r":"ref17|PRC_15","w":4,"x":1,"y":0,"c":null},
{"r":"ref17|PRC_15","w":3,"x":0,"y":0,"c":0.5},{"r":"ref17|PRC_15","w":3,"x":0.06,"y":0.5,"c":33},{"r":"ref17|PRC_15","w":3,"x":0.11,"y":0.67,"c":33},{"r":"ref17|PRC_15","w":3,"x":0.17,"y":0.75,"c":33},{"r":"ref17|PRC_15","w":3,"x":0.22,"y":0.8,"c":33},{"r":"ref17|PRC_15","w":3,"x":0.28,"y":0.84,"c":34},{"r":"ref17|PRC_15","w":3,"x":0.34,"y":0.86,"c":34},{"r":"ref17|PRC_15","w":3,"x":0.39,"y":0.87,"c":35},{"r":"ref17|PRC_15","w":3,"x":0.45,"y":0.88,"c":35},{"r":"ref17|PRC_15","w":3,"x":0.5,"y":0.89,"c":36},{"r":"ref17|PRC_15","w":3,"x":0.56,"y":0.89,"c":36},{"r":"ref17|PRC_15","w":3,"x":0.61,"y":0.9,"c":37},{"r":"ref17|PRC_15","w":3,"x":0.67,"y":0.9,"c":37},{"r":"ref17|PRC_15","w":3,"x":0.72,"y":0.91,"c":38},{"r":"ref17|PRC_15","w":3,"x":0.78,"y":0.91,"c":38},{"r":"ref17|PRC_15","w":3,"x":1,"y":0.93,"c":41},{"r":"ref17|PRC_15","w":3,"x":1,"y":0,"c":null},
{"r":"ref17|PRC_15","w":2,"x":0,"y":0,"c":0.5},{"r":"ref17|PRC_15","w":2,"x":0.11,"y":0.67,"c":38},{"r":"ref17|PRC_15","w":2,"x":0.17,"y":0.75,"c":39},{"r":"ref17|PRC_15","w":2,"x":0.22,"y":0.8,"c":40},{"r":"ref17|PRC_15","w":2,"x":0.95,"y":0.95,"c":41},{"r":"ref17|PRC_15","w":2,"x":1,"y":0,"c":null},
{"r":"ref17|PRC_15","w":1,"x":0,"y":0,"c":0.5},{"r":"ref17|PRC_15","w":1,"x":1,"y":0.94,"c":41},{"r":"ref17|PRC_15","w":1,"x":1,"y":0,"c":null},
{"r":"ref5|PRC_49","w":5,"x":0,"y":0,"c":0.5},{"r":"ref5|PRC_49","w":5,"x":0.07,"y":0.25,"c":30},{"r":"ref5|PRC_49","w":5,"x":0.11,"y":0.3,"c":30},{"r":"ref5|PRC_49","w":5,"x":0.15,"y":0.4,"c":30},{"r":"ref5|PRC_49","w":5,"x":0.17,"y":0.33,"c":30},{"r":"ref5|PRC_49","w":5,"x":0.22,"y":0.37,"c":30},{"r":"ref5|PRC_49","w":5,"x":0.22,"y":0.42,"c":30},{"r":"ref5|PRC_49","w":5,"x":0.34,"y":0.42,"c":30},{"r":"ref5|PRC_49","w":5,"x":0.55,"y":0.55,"c":30},{"r":"ref5|PRC_49","w":5,"x":0.67,"y":0.6,"c":30},{"r":"ref5|PRC_49","w":5,"x":0.89,"y":0.66,"c":30},{"r":"ref5|PRC_49","w":5,"x":1,"y":0.69,"c":31},{"r":"ref5|PRC_49","w":5,"x":1,"y":0.65,"c":32},{"r":"ref5|PRC_49","w":5,"x":1,"y":0.61,"c":33},{"r":"ref5|PRC_49","w":5,"x":1,"y":0.57,"c":34},{"r":"ref5|PRC_49","w":5,"x":1,"y":0.53,"c":35},{"r":"ref5|PRC_49","w":5,"x":1,"y":0.5,"c":36},{"r":"ref5|PRC_49","w":5,"x":1,"y":0.47,"c":37},{"r":"ref5|PRC_49","w":5,"x":1,"y":0,"c":null},
{"r":"ref5|PRC_49","w":4,"x":0,"y":0,"c":0.5},{"r":"ref5|PRC_49","w":4,"x":0.11,"y":0.5,"c":34},{"r":"ref5|PRC_49","w":4,"x":0.22,"y":0.67,"c":34},{"r":"ref5|PRC_49","w":4,"x":0.28,"y":0.7,"c":34},{"r":"ref5|PRC_49","w":4,"x":0.34,"y":0.75,"c":34},{"r":"ref5|PRC_49","w":4,"x":0.34,"y":0.6,"c":34},{"r":"ref5|PRC_49","w":4,"x":0.34,"y":0.5,"c":34},{"r":"ref5|PRC_49","w":4,"x":0.45,"y":0.57,"c":34},{"r":"ref5|PRC_49","w":4,"x":0.45,"y":0.5,"c":34},{"r":"ref5|PRC_49","w":4,"x":0.55,"y":0.56,"c":34},{"r":"ref5|PRC_49","w":4,"x":0.67,"y":0.6,"c":34},{"r":"ref5|PRC_49","w":4,"x":0.78,"y":0.63,"c":35},{"r":"ref5|PRC_49","w":4,"x":0.78,"y":0.57,"c":35},{"r":"ref5|PRC_49","w":4,"x":0.78,"y":0.54,"c":36},{"r":"ref5|PRC_49","w":4,"x":0.78,"y":0.5,"c":36},{"r":"ref5|PRC_49","w":4,"x":0.89,"y":0.54,"c":37},{"r":"ref5|PRC_49","w":4,"x":0.89,"y":0.5,"c":37},{"r":"ref5|PRC_49","w":4,"x":1,"y":0.54,"c":38},{"r":"ref5|PRC_49","w":4,"x":1,"y":0.5,"c":40},{"r":"ref5|PRC_49","w":4,"x":1,"y":0.47,"c":41},{"r":"ref5|PRC_49","w":4,"x":1,"y":0,"c":null},
{"r":"ref5|PRC_49","w":3,"x":0,"y":0,"c":0.5},{"r":"ref5|PRC_49","w":3,"x":0.11,"y":0.5,"c":36},{"r":"ref5|PRC_49","w":3,"x":0.22,"y":0.66,"c":37},{"r":"ref5|PRC_49","w":3,"x":0.45,"y":0.8,"c":38},{"r":"ref5|PRC_49","w":3,"x":0.55,"y":0.84,"c":38},{"r":"ref5|PRC_49","w":3,"x":0.55,"y":0.71,"c":39},{"r":"ref5|PRC_49","w":3,"x":0.55,"y":0.63,"c":39},{"r":"ref5|PRC_49","w":3,"x":0.55,"y":0.56,"c":40},{"r":"ref5|PRC_49","w":3,"x":1,"y":0.47,"c":41},{"r":"ref5|PRC_49","w":3,"x":1,"y":0,"c":null},
{"r":"ref5|PRC_49","w":2,"x":0,"y":0,"c":0.5},{"r":"ref5|PRC_49","w":2,"x":0.11,"y":0.5,"c":37},{"r":"ref5|PRC_49","w":2,"x":0.22,"y":0.67,"c":40},{"r":"ref5|PRC_49","w":2,"x":1,"y":0.47,"c":41},{"r":"ref5|PRC_49","w":2,"x":1,"y":0,"c":null},
{"r":"ref5|PRC_49","w":1,"x":0,"y":0,"c":0.5},{"r":"ref5|PRC_49","w":1,"x":1,"y":0.47,"c":41},{"r":"ref5|PRC_49","w":1,"x":1,"y":0,"c":null},
{"r":"ref6|PRC_50","w":5,"x":0,"y":0,"c":0.5},{"r":"ref6|PRC_50","w":5,"x":0.11,"y":0.5,"c":30},{"r":"ref6|PRC_50","w":5,"x":0.22,"y":0.66,"c":30},{"r":"ref6|PRC_50","w":5,"x":0.34,"y":0.74,"c":30},{"r":"ref6|PRC_50","w":5,"x":0.44,"y":0.8,"c":30},{"r":"ref6|PRC_50","w":5,"x":0.56,"y":0.83,"c":30},{"r":"ref6|PRC_50","w":5,"x":0.67,"y":0.85,"c":30},{"r":"ref6|PRC_50","w":5,"x":0.78,"y":0.87,"c":30},{"r":"ref6|PRC_50","w":5,"x":0.89,"y":0.88,"c":30},{"r":"ref6|PRC_50","w":5,"x":1,"y":0.9,"c":31},{"r":"ref6|PRC_50","w":5,"x":1,"y":0.47,"c":41},{"r":"ref6|PRC_50","w":5,"x":1,"y":0,"c":null},
{"r":"ref6|PRC_50","w":4,"x":0,"y":0,"c":0.5},{"r":"ref6|PRC_50","w":4,"x":0.11,"y":0.5,"c":32},{"r":"ref6|PRC_50","w":4,"x":0.22,"y":0.66,"c":32},{"r":"ref6|PRC_50","w":4,"x":0.34,"y":0.75,"c":32},{"r":"ref6|PRC_50","w":4,"x":0.44,"y":0.8,"c":32},{"r":"ref6|PRC_50","w":4,"x":0.56,"y":0.83,"c":32},{"r":"ref6|PRC_50","w":4,"x":0.67,"y":0.85,"c":32},{"r":"ref6|PRC_50","w":4,"x":0.78,"y":0.87,"c":32},{"r":"ref6|PRC_50","w":4,"x":0.89,"y":0.88,"c":32},{"r":"ref6|PRC_50","w":4,"x":1,"y":0.9,"c":33},{"r":"ref6|PRC_50","w":4,"x":1,"y":0.47,"c":41},{"r":"ref6|PRC_50","w":4,"x":1,"y":0,"c":null},
{"r":"ref6|PRC_50","w":3,"x":0,"y":0,"c":0.5},{"r":"ref6|PRC_50","w":3,"x":0.11,"y":0.5,"c":34},{"r":"ref6|PRC_50","w":3,"x":0.22,"y":0.67,"c":37},{"r":"ref6|PRC_50","w":3,"x":0.34,"y":0.75,"c":39},{"r":"ref6|PRC_50","w":3,"x":1,"y":0.47,"c":41},{"r":"ref6|PRC_50","w":3,"x":1,"y":0,"c":null},
{"r":"ref6|PRC_50","w":2,"x":0,"y":0,"c":0.5},{"r":"ref6|PRC_50","w":2,"x":1,"y":0.47,"c":41},{"r":"ref6|PRC_50","w":2,"x":1,"y":0,"c":null},
{"r":"ref6|PRC_50","w":1,"x":0,"y":0,"c":0.5},{"r":"ref6|PRC_50","w":1,"x":1,"y":0.47,"c":41},{"r":"ref6|PRC_50","w":1,"x":1,"y":0,"c":null},
{"r":"ref7|PRC_65","w":5,"x":0,"y":0,"c":0.5},{"r":"ref7|PRC_65","w":5,"x":0.1,"y":0.5,"c":30},{"r":"ref7|PRC_65","w":5,"x":0.22,"y":0.66,"c":30},{"r":"ref7|PRC_65","w":5,"x":0.33,"y":0.74,"c":30},{"r":"ref7|PRC_65","w":5,"x":0.55,"y":0.83,"c":30},{"r":"ref7|PRC_65","w":5,"x":0.67,"y":0.85,"c":30},{"r":"ref7|PRC_65","w":5,"x":0.77,"y":0.87,"c":30},{"r":"ref7|PRC_65","w":5,"x":0.88,"y":0.88,"c":30},{"r":"ref7|PRC_65","w":5,"x":1,"y":0.9,"c":31},{"r":"ref7|PRC_65","w":5,"x":1,"y":0.47,"c":41},{"r":"ref7|PRC_65","w":5,"x":1,"y":0,"c":null},
{"r":"ref7|PRC_65","w":4,"x":0,"y":0,"c":0.5},{"r":"ref7|PRC_65","w":4,"x":0.11,"y":0.5,"c":33},{"r":"ref7|PRC_65","w":4,"x":0.22,"y":0.66,"c":33},{"r":"ref7|PRC_65","w":4,"x":0.34,"y":0.75,"c":33},{"r":"ref7|PRC_65","w":4,"x":0.44,"y":0.8,"c":33},{"r":"ref7|PRC_65","w":4,"x":0.56,"y":0.83,"c":33},{"r":"ref7|PRC_65","w":4,"x":0.67,"y":0.85,"c":33},{"r":"ref7|PRC_65","w":4,"x":0.78,"y":0.87,"c":33},{"r":"ref7|PRC_65","w":4,"x":0.89,"y":0.88,"c":33},{"r":"ref7|PRC_65","w":4,"x":1,"y":0.9,"c":34},{"r":"ref7|PRC_65","w":4,"x":1,"y":0.47,"c":41},{"r":"ref7|PRC_65","w":4,"x":1,"y":0,"c":null},
{"r":"ref7|PRC_65","w":3,"x":0,"y":0,"c":0.5},{"r":"ref7|PRC_65","w":3,"x":0.11,"y":0.5,"c":34},{"r":"ref7|PRC_65","w":3,"x":0.22,"y":0.67,"c":37},{"r":"ref7|PRC_65","w":3,"x":0.34,"y":0.75,"c":39},{"r":"ref7|PRC_65","w":3,"x":1,"y":0.47,"c":41},{"r":"ref7|PRC_65","w":3,"x":1,"y":0,"c":null},
{"r":"ref7|PRC_65","w":2,"x":0,"y":0,"c":0.5},{"r":"ref7|PRC_65","w":2,"x":1,"y":0.47,"c":41},{"r":"ref7|PRC_65","w":2,"x":1,"y":0,"c":null},
{"r":"ref7|PRC_65","w":1,"x":0,"y":0,"c":0.5},{"r":"ref7|PRC_65","w":1,"x":1,"y":0.47,"c":41},{"r":"ref7|PRC_65","w":1,"x":1,"y":0,"c":null},
{"r":"ref1|PRC_01","w":5,"a":"AUC=0.8489","g":"A"},{"r":"ref1|PRC_01","w":4,"a":"AUC=0.8547","g":"A"},{"r":"ref1|PRC_01","w":3,"a":"AUC=0.7765","g":"A"},{"r":"ref1|PRC_01","w":2,"a":"AUC=0.6358","g":"A"},{"r":"ref1|PRC_01","w":1,"a":"AUC=0.6358","g":"A"},
{"r":"ref2|PRC_04","w":5,"a":"AUC=0.8472","g":"A"},{"r":"ref2|PRC_04","w":4,"a":"AUC=0.8552","g":"A"},{"r":"ref2|PRC_04","w":3,"a":"AUC=0.792","g":"A"},{"r":"ref2|PRC_04","w":2,"a":"AUC=0.4986","g":"A"},{"r":"ref2|PRC_04","w":1,"a":"AUC=0.03567","g":"A"},
{"r":"ref3|PRC_07","w":5,"a":"AUC=0.8502","g":"A"},{"r":"ref3|PRC_07","w":4,"a":"AUC=0.8521","g":"A"},{"r":"ref3|PRC_07","w":3,"a":"AUC=0.7735","g":"A"},{"r":"ref3|PRC_07","w":2,"a":"AUC=0.03567","g":"A"},{"r":"ref3|PRC_07","w":1,"a":"AUC=0.03567","g":"A"},
{"r":"ref8|PRC_23","w":5,"a":"AUC=0.8457","g":"B"},{"r":"ref8|PRC_23","w":4,"a":"AUC=0.8519","g":"B"},{"r":"ref8|PRC_23","w":3,"a":"AUC=0.8524","g":"B"},{"r":"ref8|PRC_23","w":2,"a":"AUC=0.7642","g":"B"},{"r":"ref8|PRC_23","w":1,"a":"AUC=0.6468","g":"B"},
{"r":"ref9|PRC_28","w":5,"a":"AUC=0.6182","g":"B"},{"r":"ref9|PRC_28","w":4,"a":"AUC=0.6201","g":"B"},{"r":"ref9|PRC_28","w":3,"a":"AUC=0.6264","g":"B"},{"r":"ref9|PRC_28","w":2,"a":"AUC=0.5329","g":"B"},{"r":"ref9|PRC_28","w":1,"a":"AUC=0","g":"B"},
{"r":"ref10|PRC_29","w":5,"a":"AUC=0","g":"B"},{"r":"ref10|PRC_29","w":4,"a":"AUC=0","g":"B"},{"r":"ref10|PRC_29","w":3,"a":"AUC=0","g":"B"},{"r":"ref10|PRC_29","w":2,"a":"AUC=0","g":"B"},{"r":"ref10|PRC_29","w":1,"a":"AUC=0","g":"B"},
{"r":"ref11|PRC_30","w":5,"a":"AUC=0.6764","g":"B"},{"r":"ref11|PRC_30","w":4,"a":"AUC=0.6357","g":"B"},{"r":"ref11|PRC_30","w":3,"a":"AUC=0.1375","g":"B"},{"r":"ref11|PRC_30","w":2,"a":"AUC=0.03292","g":"B"},{"r":"ref11|PRC_30","w":1,"a":"AUC=0.4444","g":"B"},
{"r":"ref14|PRC_09","w":5,"a":"AUC=0.8054","g":"C"},{"r":"ref14|PRC_09","w":4,"a":"AUC=0.8015","g":"C"},{"r":"ref14|PRC_09","w":3,"a":"AUC=0.8014","g":"C"},{"r":"ref14|PRC_09","w":2,"a":"AUC=0.7711","g":"C"},{"r":"ref14|PRC_09","w":1,"a":"AUC=0.6204","g":"C"},
{"r":"ref15|PRC_11","w":5,"a":"AUC=0.683","g":"C"},{"r":"ref15|PRC_11","w":4,"a":"AUC=0.6857","g":"C"},{"r":"ref15|PRC_11","w":3,"a":"AUC=0.6841","g":"C"},{"r":"ref15|PRC_11","w":2,"a":"AUC=0.6857","g":"C"},{"r":"ref15|PRC_11","w":1,"a":"AUC=0.5848","g":"C"},
{"r":"ref16|PRC_14","w":5,"a":"AUC=0","g":"C"},{"r":"ref16|PRC_14","w":4,"a":"AUC=0","g":"C"},{"r":"ref16|PRC_14","w":3,"a":"AUC=0","g":"C"},{"r":"ref16|PRC_14","w":2,"a":"AUC=0","g":"C"},{"r":"ref16|PRC_14","w":1,"a":"AUC=0","g":"C"},
{"r":"ref17|PRC_15","w":5,"a":"AUC=0.7774","g":"C"},{"r":"ref17|PRC_15","w":4,"a":"AUC=0.8053","g":"C"},{"r":"ref17|PRC_15","w":3,"a":"AUC=0.8045","g":"C"},{"r":"ref17|PRC_15","w":2,"a":"AUC=0.709","g":"C"},{"r":"ref17|PRC_15","w":1,"a":"AUC=0","g":"C"},
{"r":"ref5|PRC_49","w":5,"a":"AUC=0.4366","g":"D"},{"r":"ref5|PRC_49","w":4,"a":"AUC=0.5348","g":"D"},{"r":"ref5|PRC_49","w":3,"a":"AUC=0.663","g":"D"},{"r":"ref5|PRC_49","w":2,"a":"AUC=0.5741","g":"D"},{"r":"ref5|PRC_49","w":1,"a":"AUC=0","g":"D"},
{"r":"ref6|PRC_50","w":5,"a":"AUC=0.6857","g":"D"},{"r":"ref6|PRC_50","w":4,"a":"AUC=0.6857","g":"D"},{"r":"ref6|PRC_50","w":3,"a":"AUC=0.6296","g":"D"},{"r":"ref6|PRC_50","w":2,"a":"AUC=0","g":"D"},{"r":"ref6|PRC_50","w":1,"a":"AUC=0","g":"D"},
{"r":"ref7|PRC_65","w":5,"a":"AUC=0.6801","g":"D"},{"r":"ref7|PRC_65","w":4,"a":"AUC=0.6857","g":"D"},{"r":"ref7|PRC_65","w":3,"a":"AUC=0.6296","g":"D"},{"r":"ref7|PRC_65","w":2,"a":"AUC=0","g":"D"},{"r":"ref7|PRC_65","w":1,"a":"AUC=0","g":"D"},
{"r":"ref1|PRC_01","w":5,"k":"y","tv":0},{"r":"ref1|PRC_01","w":5,"k":"y","tv":0.2},{"r":"ref1|PRC_01","w":5,"k":"y","tv":0.4},{"r":"ref1|PRC_01","w":5,"k":"y","tv":0.6},{"r":"ref1|PRC_01","w":5,"k":"y","tv":0.8},{"r":"ref1|PRC_01","w":5,"k":"y","tv":1},
{"r":"ref1|PRC_01","w":4,"k":"y","tv":0},{"r":"ref1|PRC_01","w":4,"k":"y","tv":0.2},{"r":"ref1|PRC_01","w":4,"k":"y","tv":0.4},{"r":"ref1|PRC_01","w":4,"k":"y","tv":0.6},{"r":"ref1|PRC_01","w":4,"k":"y","tv":0.8},{"r":"ref1|PRC_01","w":4,"k":"y","tv":1},
{"r":"ref1|PRC_01","w":3,"k":"y","tv":0},{"r":"ref1|PRC_01","w":3,"k":"y","tv":0.2},{"r":"ref1|PRC_01","w":3,"k":"y","tv":0.4},{"r":"ref1|PRC_01","w":3,"k":"y","tv":0.6},{"r":"ref1|PRC_01","w":3,"k":"y","tv":0.8},{"r":"ref1|PRC_01","w":3,"k":"y","tv":1},
{"r":"ref1|PRC_01","w":2,"k":"y","tv":0},{"r":"ref1|PRC_01","w":2,"k":"y","tv":0.2},{"r":"ref1|PRC_01","w":2,"k":"y","tv":0.4},{"r":"ref1|PRC_01","w":2,"k":"y","tv":0.6},{"r":"ref1|PRC_01","w":2,"k":"y","tv":0.8},{"r":"ref1|PRC_01","w":2,"k":"y","tv":1},
{"r":"ref1|PRC_01","w":1,"k":"y","tv":0},{"r":"ref1|PRC_01","w":1,"k":"y","tv":0.2},{"r":"ref1|PRC_01","w":1,"k":"y","tv":0.4},{"r":"ref1|PRC_01","w":1,"k":"y","tv":0.6},{"r":"ref1|PRC_01","w":1,"k":"y","tv":0.8},{"r":"ref1|PRC_01","w":1,"k":"y","tv":1},
{"r":"ref1|PRC_01","w":1,"k":"x","tv":0},{"r":"ref1|PRC_01","w":1,"k":"x","tv":0.2},{"r":"ref1|PRC_01","w":1,"k":"x","tv":0.4},{"r":"ref1|PRC_01","w":1,"k":"x","tv":0.6},{"r":"ref1|PRC_01","w":1,"k":"x","tv":0.8},{"r":"ref1|PRC_01","w":1,"k":"x","tv":1},
{"r":"ref2|PRC_04","w":1,"k":"x","tv":0},{"r":"ref2|PRC_04","w":1,"k":"x","tv":0.2},{"r":"ref2|PRC_04","w":1,"k":"x","tv":0.4},{"r":"ref2|PRC_04","w":1,"k":"x","tv":0.6},{"r":"ref2|PRC_04","w":1,"k":"x","tv":0.8},{"r":"ref2|PRC_04","w":1,"k":"x","tv":1},
{"r":"ref3|PRC_07","w":1,"k":"x","tv":0},{"r":"ref3|PRC_07","w":1,"k":"x","tv":0.2},{"r":"ref3|PRC_07","w":1,"k":"x","tv":0.4},{"r":"ref3|PRC_07","w":1,"k":"x","tv":0.6},{"r":"ref3|PRC_07","w":1,"k":"x","tv":0.8},{"r":"ref3|PRC_07","w":1,"k":"x","tv":1},
{"r":"ref8|PRC_23","w":1,"k":"x","tv":0},{"r":"ref8|PRC_23","w":1,"k":"x","tv":0.2},{"r":"ref8|PRC_23","w":1,"k":"x","tv":0.4},{"r":"ref8|PRC_23","w":1,"k":"x","tv":0.6},{"r":"ref8|PRC_23","w":1,"k":"x","tv":0.8},{"r":"ref8|PRC_23","w":1,"k":"x","tv":1},
{"r":"ref9|PRC_28","w":1,"k":"x","tv":0},{"r":"ref9|PRC_28","w":1,"k":"x","tv":0.2},{"r":"ref9|PRC_28","w":1,"k":"x","tv":0.4},{"r":"ref9|PRC_28","w":1,"k":"x","tv":0.6},{"r":"ref9|PRC_28","w":1,"k":"x","tv":0.8},{"r":"ref9|PRC_28","w":1,"k":"x","tv":1},
{"r":"ref10|PRC_29","w":1,"k":"x","tv":0},{"r":"ref10|PRC_29","w":1,"k":"x","tv":0.2},{"r":"ref10|PRC_29","w":1,"k":"x","tv":0.4},{"r":"ref10|PRC_29","w":1,"k":"x","tv":0.6},{"r":"ref10|PRC_29","w":1,"k":"x","tv":0.8},{"r":"ref10|PRC_29","w":1,"k":"x","tv":1},
{"r":"ref11|PRC_30","w":1,"k":"x","tv":0},{"r":"ref11|PRC_30","w":1,"k":"x","tv":0.2},{"r":"ref11|PRC_30","w":1,"k":"x","tv":0.4},{"r":"ref11|PRC_30","w":1,"k":"x","tv":0.6},{"r":"ref11|PRC_30","w":1,"k":"x","tv":0.8},{"r":"ref11|PRC_30","w":1,"k":"x","tv":1},
{"r":"ref14|PRC_09","w":1,"k":"x","tv":0},{"r":"ref14|PRC_09","w":1,"k":"x","tv":0.2},{"r":"ref14|PRC_09","w":1,"k":"x","tv":0.4},{"r":"ref14|PRC_09","w":1,"k":"x","tv":0.6},{"r":"ref14|PRC_09","w":1,"k":"x","tv":0.8},{"r":"ref14|PRC_09","w":1,"k":"x","tv":1},
{"r":"ref15|PRC_11","w":1,"k":"x","tv":0},{"r":"ref15|PRC_11","w":1,"k":"x","tv":0.2},{"r":"ref15|PRC_11","w":1,"k":"x","tv":0.4},{"r":"ref15|PRC_11","w":1,"k":"x","tv":0.6},{"r":"ref15|PRC_11","w":1,"k":"x","tv":0.8},{"r":"ref15|PRC_11","w":1,"k":"x","tv":1},
{"r":"ref16|PRC_14","w":1,"k":"x","tv":0},{"r":"ref16|PRC_14","w":1,"k":"x","tv":0.2},{"r":"ref16|PRC_14","w":1,"k":"x","tv":0.4},{"r":"ref16|PRC_14","w":1,"k":"x","tv":0.6},{"r":"ref16|PRC_14","w":1,"k":"x","tv":0.8},{"r":"ref16|PRC_14","w":1,"k":"x","tv":1},
{"r":"ref17|PRC_15","w":1,"k":"x","tv":0},{"r":"ref17|PRC_15","w":1,"k":"x","tv":0.2},{"r":"ref17|PRC_15","w":1,"k":"x","tv":0.4},{"r":"ref17|PRC_15","w":1,"k":"x","tv":0.6},{"r":"ref17|PRC_15","w":1,"k":"x","tv":0.8},{"r":"ref17|PRC_15","w":1,"k":"x","tv":1},
{"r":"ref5|PRC_49","w":1,"k":"x","tv":0},{"r":"ref5|PRC_49","w":1,"k":"x","tv":0.2},{"r":"ref5|PRC_49","w":1,"k":"x","tv":0.4},{"r":"ref5|PRC_49","w":1,"k":"x","tv":0.6},{"r":"ref5|PRC_49","w":1,"k":"x","tv":0.8},{"r":"ref5|PRC_49","w":1,"k":"x","tv":1},
{"r":"ref6|PRC_50","w":1,"k":"x","tv":0},{"r":"ref6|PRC_50","w":1,"k":"x","tv":0.2},{"r":"ref6|PRC_50","w":1,"k":"x","tv":0.4},{"r":"ref6|PRC_50","w":1,"k":"x","tv":0.6},{"r":"ref6|PRC_50","w":1,"k":"x","tv":0.8},{"r":"ref6|PRC_50","w":1,"k":"x","tv":1},
{"r":"ref7|PRC_65","w":1,"k":"x","tv":0},{"r":"ref7|PRC_65","w":1,"k":"x","tv":0.2},{"r":"ref7|PRC_65","w":1,"k":"x","tv":0.4},{"r":"ref7|PRC_65","w":1,"k":"x","tv":0.6},{"r":"ref7|PRC_65","w":1,"k":"x","tv":0.8},{"r":"ref7|PRC_65","w":1,"k":"x","tv":1}
]},
"facet":{
 "row":{"field":"w","type":"ordinal","sort":"descending","title":"precision","header":{"labels":false,"titleOrient":"left","titleFontSize":17,"titleFontWeight":"normal","titleColor":"#000000","titlePadding":18}},
 "column":{"field":"r","type":"nominal","sort":["ref1|PRC_01","ref2|PRC_04","ref3|PRC_07","ref8|PRC_23","ref9|PRC_28","ref10|PRC_29","ref11|PRC_30","ref14|PRC_09","ref15|PRC_11","ref16|PRC_14","ref17|PRC_15","ref5|PRC_49","ref6|PRC_50","ref7|PRC_65"],"title":"recall","header":{"labels":false,"titleOrient":"bottom","titleFontSize":17,"titleFontWeight":"normal","titleColor":"#000000","titlePadding":23}}
},
"spacing":{"row":9,"column":9},
"spec":{
 "width":118.5,"height":109,
 "resolve":{"scale":{"fill":"independent"}},
 "layer":[
  {"transform":[{"filter":"isValid(datum.a)"}],"mark":{"type":"rule","color":"#FFFFFF","strokeWidth":0.55},
   "encoding":{"x":{"datum":0.1,"type":"quantitative","scale":{"domain":[-0.05,1.05],"nice":false,"zero":false},"title":null},"y":{"datum":-0.05,"type":"quantitative","scale":{"domain":[-0.05,1.05],"nice":false,"zero":false},"title":null},"y2":{"datum":1.05}}},
  {"transform":[{"filter":"isValid(datum.a)"}],"mark":{"type":"rule","color":"#FFFFFF","strokeWidth":0.55},
   "encoding":{"x":{"datum":0.3,"type":"quantitative","scale":{"domain":[-0.05,1.05],"nice":false,"zero":false},"title":null},"y":{"datum":-0.05,"type":"quantitative","scale":{"domain":[-0.05,1.05],"nice":false,"zero":false},"title":null},"y2":{"datum":1.05}}},
  {"transform":[{"filter":"isValid(datum.a)"}],"mark":{"type":"rule","color":"#FFFFFF","strokeWidth":0.55},
   "encoding":{"x":{"datum":0.5,"type":"quantitative","scale":{"domain":[-0.05,1.05],"nice":false,"zero":false},"title":null},"y":{"datum":-0.05,"type":"quantitative","scale":{"domain":[-0.05,1.05],"nice":false,"zero":false},"title":null},"y2":{"datum":1.05}}},
  {"transform":[{"filter":"isValid(datum.a)"}],"mark":{"type":"rule","color":"#FFFFFF","strokeWidth":0.55},
   "encoding":{"x":{"datum":0.7,"type":"quantitative","scale":{"domain":[-0.05,1.05],"nice":false,"zero":false},"title":null},"y":{"datum":-0.05,"type":"quantitative","scale":{"domain":[-0.05,1.05],"nice":false,"zero":false},"title":null},"y2":{"datum":1.05}}},
  {"transform":[{"filter":"isValid(datum.a)"}],"mark":{"type":"rule","color":"#FFFFFF","strokeWidth":0.55},
   "encoding":{"x":{"datum":0.9,"type":"quantitative","scale":{"domain":[-0.05,1.05],"nice":false,"zero":false},"title":null},"y":{"datum":-0.05,"type":"quantitative","scale":{"domain":[-0.05,1.05],"nice":false,"zero":false},"title":null},"y2":{"datum":1.05}}},
  {"transform":[{"filter":"isValid(datum.a)"}],"mark":{"type":"rule","color":"#FFFFFF","strokeWidth":0.55},
   "encoding":{"y":{"datum":0.1,"type":"quantitative","scale":{"domain":[-0.05,1.05],"nice":false,"zero":false},"title":null},"x":{"datum":-0.05,"type":"quantitative","scale":{"domain":[-0.05,1.05],"nice":false,"zero":false},"title":null},"x2":{"datum":1.05}}},
  {"transform":[{"filter":"isValid(datum.a)"}],"mark":{"type":"rule","color":"#FFFFFF","strokeWidth":0.55},
   "encoding":{"y":{"datum":0.3,"type":"quantitative","scale":{"domain":[-0.05,1.05],"nice":false,"zero":false},"title":null},"x":{"datum":-0.05,"type":"quantitative","scale":{"domain":[-0.05,1.05],"nice":false,"zero":false},"title":null},"x2":{"datum":1.05}}},
  {"transform":[{"filter":"isValid(datum.a)"}],"mark":{"type":"rule","color":"#FFFFFF","strokeWidth":0.55},
   "encoding":{"y":{"datum":0.5,"type":"quantitative","scale":{"domain":[-0.05,1.05],"nice":false,"zero":false},"title":null},"x":{"datum":-0.05,"type":"quantitative","scale":{"domain":[-0.05,1.05],"nice":false,"zero":false},"title":null},"x2":{"datum":1.05}}},
  {"transform":[{"filter":"isValid(datum.a)"}],"mark":{"type":"rule","color":"#FFFFFF","strokeWidth":0.55},
   "encoding":{"y":{"datum":0.7,"type":"quantitative","scale":{"domain":[-0.05,1.05],"nice":false,"zero":false},"title":null},"x":{"datum":-0.05,"type":"quantitative","scale":{"domain":[-0.05,1.05],"nice":false,"zero":false},"title":null},"x2":{"datum":1.05}}},
  {"transform":[{"filter":"isValid(datum.a)"}],"mark":{"type":"rule","color":"#FFFFFF","strokeWidth":0.55},
   "encoding":{"y":{"datum":0.9,"type":"quantitative","scale":{"domain":[-0.05,1.05],"nice":false,"zero":false},"title":null},"x":{"datum":-0.05,"type":"quantitative","scale":{"domain":[-0.05,1.05],"nice":false,"zero":false},"title":null},"x2":{"datum":1.05}}},
  {"transform":[{"filter":"datum.k == 'y'"}],"mark":{"type":"rule","color":"#333333","strokeWidth":1.1},
   "encoding":{"y":{"field":"tv","type":"quantitative","scale":{"domain":[-0.05,1.05],"nice":false,"zero":false},"title":null},"x":{"datum":-0.05,"type":"quantitative","scale":{"domain":[-0.05,1.05],"nice":false,"zero":false},"title":null},"x2":{"datum":-0.0825}}},
  {"transform":[{"filter":"datum.k == 'y'"}],"mark":{"type":"text","color":"#4D4D4D","fontSize":14,"align":"right","baseline":"middle","dx":-6},
   "encoding":{"y":{"field":"tv","type":"quantitative","scale":{"domain":[-0.05,1.05],"nice":false,"zero":false},"title":null},"x":{"datum":-0.05,"type":"quantitative","scale":{"domain":[-0.05,1.05],"nice":false,"zero":false},"title":null},"text":{"field":"tv","type":"quantitative","format":".1f"}}},
  {"transform":[{"filter":"datum.k == 'x'"}],"mark":{"type":"rule","color":"#333333","strokeWidth":1.1},
   "encoding":{"x":{"field":"tv","type":"quantitative","scale":{"domain":[-0.05,1.05],"nice":false,"zero":false},"title":null},"y":{"datum":-0.05,"type":"quantitative","scale":{"domain":[-0.05,1.05],"nice":false,"zero":false},"title":null},"y2":{"datum":-0.0854}}},
  {"transform":[{"filter":"datum.k == 'x'"}],"mark":{"type":"text","color":"#4D4D4D","fontSize":14,"align":"right","baseline":"middle","angle":270},
   "encoding":{"x":{"field":"tv","type":"quantitative","scale":{"domain":[-0.05,1.05],"nice":false,"zero":false},"title":null},"y":{"datum":-0.108,"type":"quantitative","scale":{"domain":[-0.05,1.05],"nice":false,"zero":false},"title":null},"text":{"field":"tv","type":"quantitative","format":".1f"}}},
  {"transform":[{"filter":"isValid(datum.a) && datum.w == 5"}],
   "mark":{"type":"rect"},
   "encoding":{
    "x":{"datum":-0.05,"type":"quantitative","scale":{"domain":[-0.05,1.05],"nice":false,"zero":false},"title":null},
    "x2":{"datum":1.05},
    "y":{"datum":1.07,"type":"quantitative","scale":{"domain":[-0.05,1.05],"nice":false,"zero":false},"title":null},
    "y2":{"datum":1.36},
    "fill":{"field":"g","type":"nominal","scale":{"domain":["A","B","C","D"],"range":["#D95757","#6A3E7C","#2F847C","#F5AD33"]},"legend":null}
   }},
  {"transform":[{"filter":"isValid(datum.a) && datum.w == 5"}],
   "mark":{"type":"text","fontSize":15,"color":"#1A1A1A","align":"center","baseline":"middle"},
   "encoding":{
    "x":{"datum":0.5,"type":"quantitative","scale":{"domain":[-0.05,1.05],"nice":false,"zero":false},"title":null},
    "y":{"datum":1.215,"type":"quantitative","scale":{"domain":[-0.05,1.05],"nice":false,"zero":false},"title":null},
    "text":{"field":"r"}
   }},
  {"transform":[{"filter":"isValid(datum.a) && datum.r == 'ref7|PRC_65'"}],
   "mark":{"type":"rect"},
   "encoding":{
    "x":{"datum":1.063,"type":"quantitative","scale":{"domain":[-0.05,1.05],"nice":false,"zero":false},"title":null},
    "x2":{"datum":1.336},
    "y":{"datum":-0.05,"type":"quantitative","scale":{"domain":[-0.05,1.05],"nice":false,"zero":false},"title":null},
    "y2":{"datum":1.05},
    "fill":{"field":"w","type":"ordinal","scale":{"domain":[5,4,3,2,1],"range":["#8D9CC5","#97A6C8","#A2AFCA","#B0BBCE","#C6CDD6"]},"legend":null}
   }},
  {"transform":[{"filter":"isValid(datum.a) && datum.r == 'ref7|PRC_65'"}],
   "mark":{"type":"text","fontSize":15,"color":"#1A1A1A","angle":90,"align":"center","baseline":"middle"},
   "encoding":{
    "x":{"datum":1.2,"type":"quantitative","scale":{"domain":[-0.05,1.05],"nice":false,"zero":false},"title":null},
    "y":{"datum":0.5,"type":"quantitative","scale":{"domain":[-0.05,1.05],"nice":false,"zero":false},"title":null},
    "text":{"field":"w"}
   }},
  {"transform":[{"filter":"isValid(datum.x)"},{"window":[{"op":"lag","field":"x","as":"px"},{"op":"lag","field":"y","as":"py"}],"groupby":["r","w"]},{"filter":"isValid(datum.px) && isValid(datum.c)"}],
   "mark":{"type":"rule","strokeWidth":1.2},
   "encoding":{
    "x":{"field":"px","type":"quantitative","title":null,"scale":{"domain":[-0.05,1.05],"nice":false,"zero":false},
      "axis":{"values":[0,0.2,0.4,0.6,0.8,1],"labels":false,"ticks":false,"domain":false,"gridWidth":1.1}},
    "y":{"field":"py","type":"quantitative","title":null,"scale":{"domain":[-0.05,1.05],"nice":false,"zero":false},
      "axis":{"values":[0,0.2,0.4,0.6,0.8,1],"labels":false,"ticks":false,"domain":false,"gridWidth":1.1}},
    "x2":{"field":"x"},
    "y2":{"field":"y"},
    "stroke":{"field":"c","type":"quantitative","scale":{"domain":[0.5,42],"range":["#FF0000","#0000FF"],"interpolate":"lab"},
      "legend":{"type":"gradient","direction":"vertical","title":"cutoff","orient":"none","legendX":1838,"legendY":238,"gradientLength":148,"gradientThickness":31,"values":[10,20,30,40],"titleFontSize":17,"titleFontWeight":"normal","titleColor":"#000000","labelFontSize":15,"labelColor":"#333333","labelOffset":6,"titlePadding":8,"gradientStrokeWidth":0}}
   }},
  {"transform":[{"filter":"isValid(datum.x)"},{"window":[{"op":"lag","field":"x","as":"px"},{"op":"lag","field":"y","as":"py"}],"groupby":["r","w"]},{"filter":"isValid(datum.px) && !isValid(datum.c)"}],
   "mark":{"type":"rule","strokeWidth":1.2,"color":"#7F7F7F"},
   "encoding":{
    "x":{"field":"px","type":"quantitative","title":null,"scale":{"domain":[-0.05,1.05],"nice":false,"zero":false}},
    "y":{"field":"py","type":"quantitative","title":null,"scale":{"domain":[-0.05,1.05],"nice":false,"zero":false}},
    "x2":{"field":"x"},
    "y2":{"field":"y"}
   }},
  {"transform":[{"filter":"isValid(datum.x) && isValid(datum.c)"}],
   "mark":{"type":"point","shape":"diamond","filled":true,"size":50,"opacity":1,"strokeWidth":0},
   "encoding":{
    "x":{"field":"x","type":"quantitative","title":null,"scale":{"domain":[-0.05,1.05],"nice":false,"zero":false}},
    "y":{"field":"y","type":"quantitative","title":null,"scale":{"domain":[-0.05,1.05],"nice":false,"zero":false}},
    "fill":{"field":"c","type":"quantitative","scale":{"domain":[0.5,42],"range":["#FF0000","#0000FF"],"interpolate":"lab"},"legend":null}
   }},
  {"transform":[{"filter":"isValid(datum.x) && !isValid(datum.c)"}],
   "mark":{"type":"point","shape":"diamond","filled":true,"size":50,"opacity":1,"color":"#7F7F7F"},
   "encoding":{
    "x":{"field":"x","type":"quantitative","title":null,"scale":{"domain":[-0.05,1.05],"nice":false,"zero":false}},
    "y":{"field":"y","type":"quantitative","title":null,"scale":{"domain":[-0.05,1.05],"nice":false,"zero":false}}
   }},
  {"transform":[{"filter":"isValid(datum.a)"}],
   "mark":{"type":"text","fontSize":10,"color":"#000000","align":"center","baseline":"middle"},
   "encoding":{
    "x":{"datum":0.4,"type":"quantitative","scale":{"domain":[-0.05,1.05],"nice":false,"zero":false},"title":null},
    "y":{"datum":0.2,"type":"quantitative","scale":{"domain":[-0.05,1.05],"nice":false,"zero":false},"title":null},
    "text":{"field":"a"}
   }}
 ]
},
"config":{
 "font":"Liberation Sans",
 "view":{"fill":"#EBEBEB","stroke":null},
 "axis":{"domain":false,"grid":true,"gridColor":"#FFFFFF","labels":false,"ticks":false}
}
}
